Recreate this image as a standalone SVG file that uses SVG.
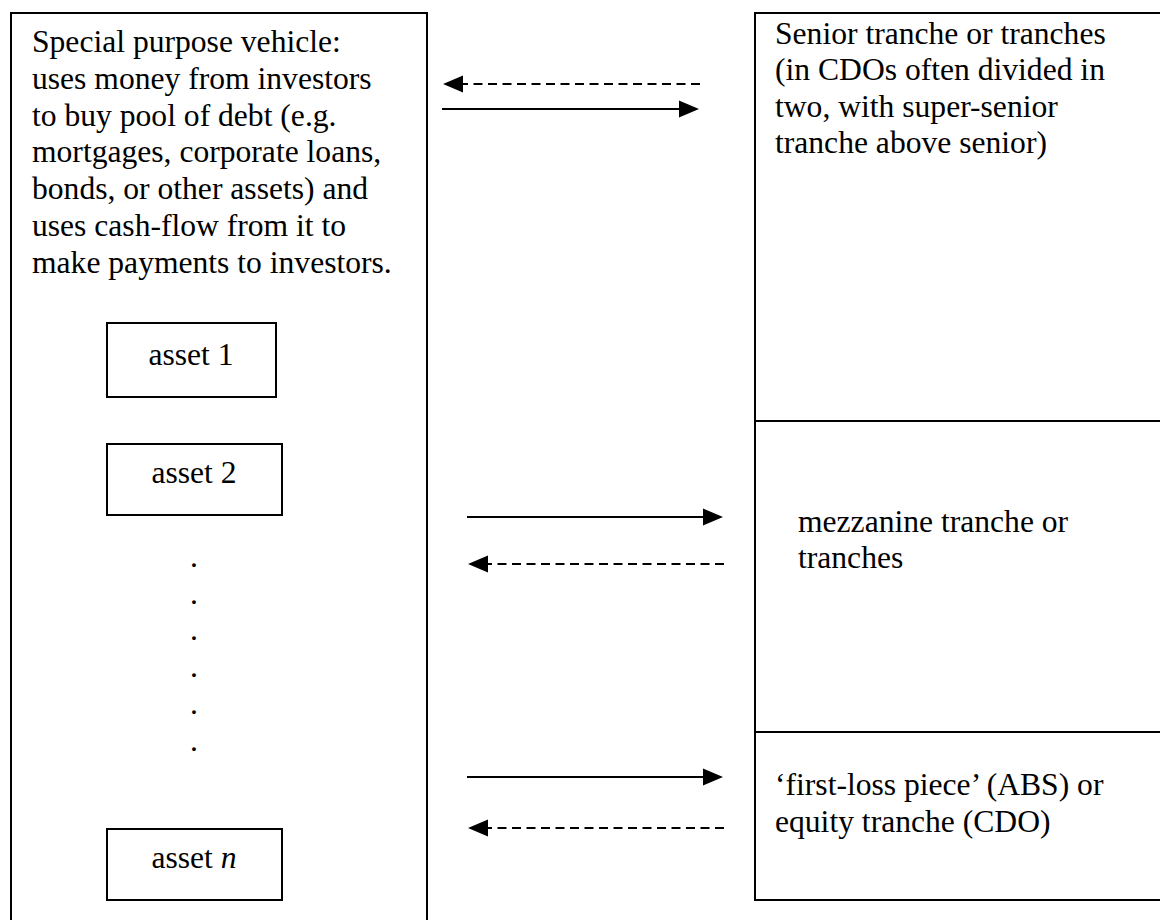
<svg xmlns="http://www.w3.org/2000/svg" width="1160" height="920" viewBox="0 0 1160 920">
<style>
.box{fill:#fff;stroke:#000;stroke-width:2}
.t{font-family:"Liberation Serif","Times New Roman",serif;font-size:31.6px;fill:#000}
.c{text-anchor:middle}
.solid{stroke:#000;stroke-width:2;fill:none}
.dash{stroke:#000;stroke-width:2;fill:none;stroke-dasharray:9 5.5}
</style>
<defs>
<marker id="ah" viewBox="0 -9 20 18" refX="0" refY="0" markerWidth="20" markerHeight="18" markerUnits="userSpaceOnUse" orient="auto">
<path d="M0,-8.5 L20,0 L0,8.5 z" fill="#000" stroke="none"/>
</marker>
</defs>
<rect width="1160" height="920" fill="#fff"/>
<g id="spv">
<rect class="box" x="11" y="13" width="416" height="915"/>
<text class="t" x="32" y="52">Special purpose vehicle:</text>
<text class="t" x="32" y="89">uses money from investors</text>
<text class="t" x="32" y="126">to buy pool of debt (e.g.</text>
<text class="t" x="32" y="162">mortgages, corporate loans,</text>
<text class="t" x="32" y="199">bonds, or other assets) and</text>
<text class="t" x="32" y="236">uses cash-flow from it to</text>
<text class="t" x="32" y="273">make payments to investors.</text>
<text class="t c" x="194" y="567">.</text>
<text class="t c" x="194" y="604">.</text>
<text class="t c" x="194" y="640">.</text>
<text class="t c" x="194" y="677">.</text>
<text class="t c" x="194" y="714">.</text>
<text class="t c" x="194" y="751">.</text>
</g>
<g id="asset1">
<rect class="box" x="107" y="323" width="169" height="74"/>
<text class="t c" x="191" y="365">asset 1</text>
</g>
<g id="asset2">
<rect class="box" x="107" y="444" width="175" height="71"/>
<text class="t c" x="194" y="483">asset 2</text>
</g>
<g id="assetn">
<rect class="box" x="107" y="829" width="175" height="71"/>
<text class="t c" x="194" y="868">asset <tspan font-style="italic">n</tspan></text>
</g>
<g id="senior">
<rect class="box" x="755" y="13" width="420" height="408"/>
<text class="t" x="775" y="44">Senior tranche or tranches</text>
<text class="t" x="775" y="80">(in CDOs often divided in</text>
<text class="t" x="775" y="117">two, with super-senior</text>
<text class="t" x="775" y="153">tranche above senior)</text>
</g>
<g id="mezzanine">
<rect class="box" x="755" y="421" width="420" height="311"/>
<text class="t" x="798" y="532">mezzanine tranche or</text>
<text class="t" x="798" y="568">tranches</text>
</g>
<g id="equity">
<rect class="box" x="755" y="732" width="420" height="168"/>
<text class="t" x="775" y="795">‘first-loss piece’ (ABS) or</text>
<text class="t" x="775" y="832">equity tranche (CDO)</text>
</g>
<g id="connectors">
<line class="dash" x1="700" y1="84" x2="463" y2="84" marker-end="url(#ah)"/>
<line class="solid" x1="442" y1="109" x2="679" y2="109" marker-end="url(#ah)"/>
<line class="solid" x1="467" y1="517" x2="703" y2="517" marker-end="url(#ah)"/>
<line class="dash" x1="724" y1="564" x2="488" y2="564" marker-end="url(#ah)"/>
<line class="solid" x1="467" y1="777" x2="703" y2="777" marker-end="url(#ah)"/>
<line class="dash" x1="724" y1="828" x2="488" y2="828" marker-end="url(#ah)"/>
</g>
</svg>
